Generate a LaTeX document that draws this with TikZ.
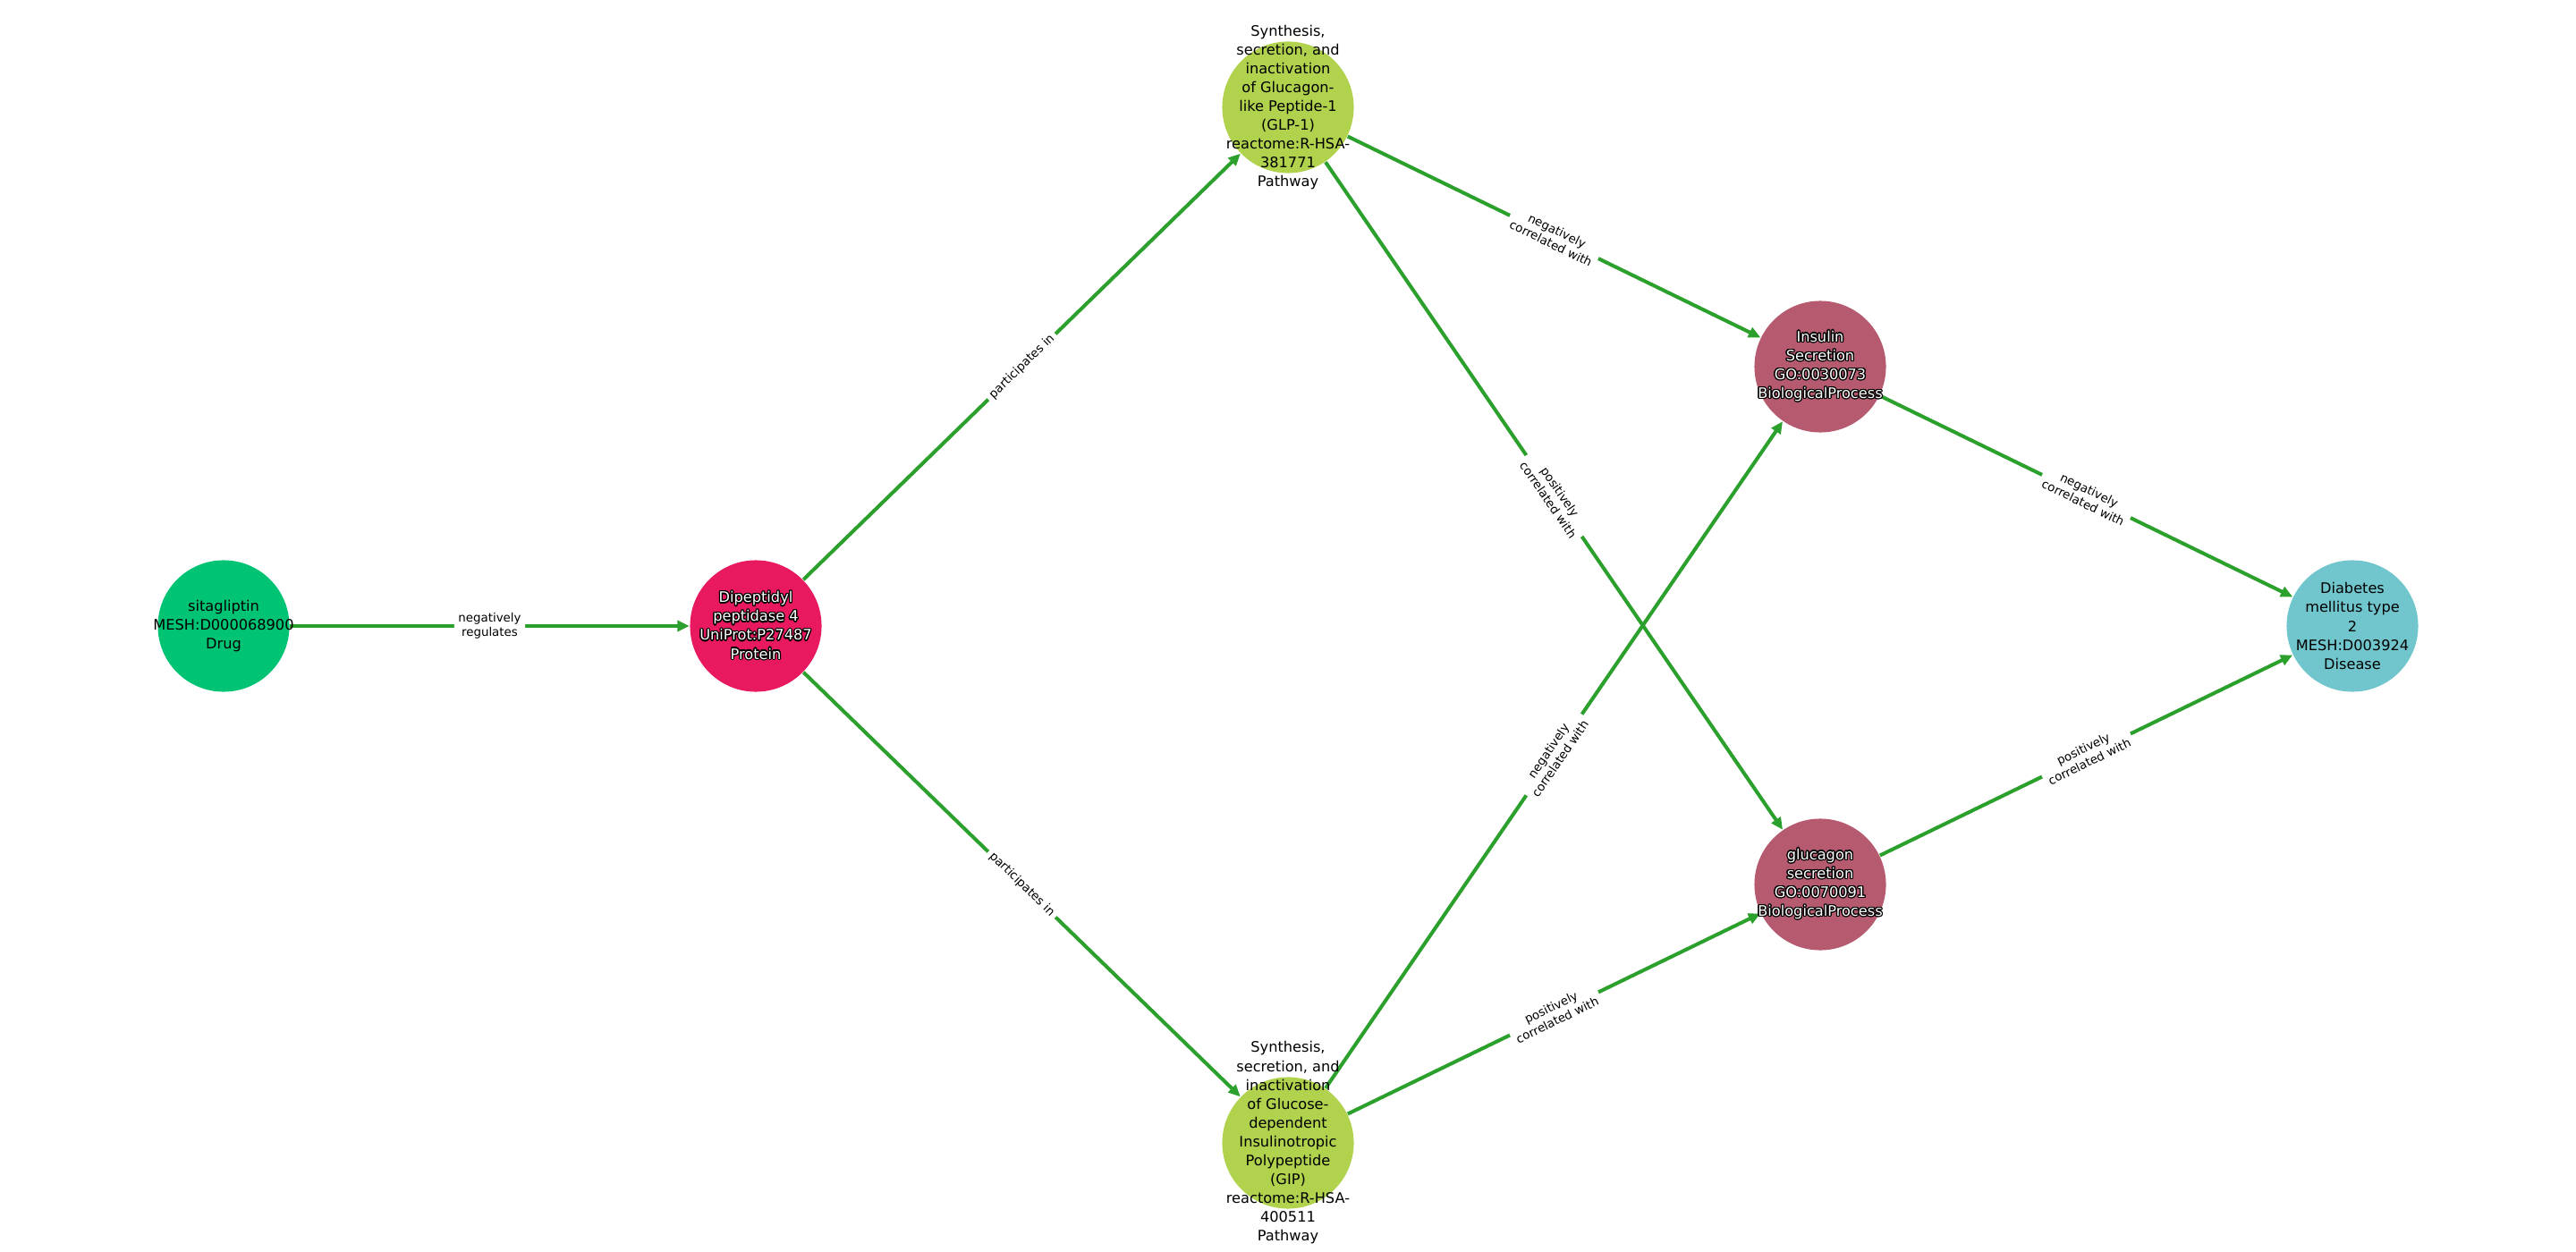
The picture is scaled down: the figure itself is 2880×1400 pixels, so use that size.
\documentclass[tikz,border=0pt]{standalone}
\usepackage{fontspec}
\setmainfont{DejaVu Sans}
\usepackage{contour}
\contourlength{0.35pt}
\contournumber{16}
\usetikzlibrary{arrows.meta}
\definecolor{cdrug}{RGB}{0,196,116}
\definecolor{cprot}{RGB}{232,25,95}
\definecolor{cpath}{RGB}{176,210,77}
\definecolor{cbio}{RGB}{181,90,111}
\definecolor{cdis}{RGB}{112,198,204}
\definecolor{cedge}{RGB}{44,160,44}
\newcommand{\ct}[1]{\contour{black}{#1}}
\tikzset{
  ent/.style={circle, minimum size=1.47cm, inner sep=0pt, draw=none},
  ntext/.style={align=center, inner sep=0pt, font=\fontsize{4.6}{6}\selectfont, text=black},
  wtext/.style={ntext, text=white},
  rel/.style={draw=cedge, line width=1.15pt, -{Triangle[length=3.8pt,width=3.4pt]}},
  elab/.style={midway, sloped, fill=white, align=center, inner sep=1.3pt, rounded corners=1pt,
    font=\fontsize{3.8}{4.5}\selectfont, text=black}
}
\begin{document}
\begin{tikzpicture}[x=0.01cm, y=-0.01cm]
\useasboundingbox (0,0) rectangle (2880,1400);
% circles
\node[ent, fill=cdrug] (sita) at (250,700) {};
\node[ent, fill=cprot] (dpp4) at (845,700) {};
\node[ent, fill=cpath] (glp1) at (1440,120) {};
\node[ent, fill=cpath] (gip) at (1440,1278) {};
\node[ent, fill=cbio] (ins) at (2035,410) {};
\node[ent, fill=cbio] (glu) at (2035,989) {};
\node[ent, fill=cdis] (dm) at (2630,700) {};
% edges
\draw[rel] (sita) -- node[elab]{negatively\\regulates} (dpp4);
\draw[rel] (dpp4) -- node[elab]{participates in} (glp1);
\draw[rel] (dpp4) -- node[elab]{participates in} (gip);
\draw[rel] (glp1) -- node[elab]{negatively\\correlated with} (ins);
\draw[rel] (glp1) -- node[elab]{positively\\correlated with} (glu);
\draw[rel] (gip) -- node[elab]{negatively\\correlated with} (ins);
\draw[rel] (gip) -- node[elab]{positively\\correlated with} (glu);
\draw[rel] (ins) -- node[elab]{negatively\\correlated with} (dm);
\draw[rel] (glu) -- node[elab]{positively\\correlated with} (dm);
% texts
\node[ntext] (sita-t) at (sita.center) {sitagliptin\\MESH:D000068900\\Drug};
\node[wtext] (dpp4-t) at (dpp4.center) {\ct{Dipeptidyl}\\\ct{peptidase 4}\\\ct{UniProt:P27487}\\\ct{Protein}};
\node[ntext] (glp1-t) at (glp1.center) {Synthesis,\\secretion, and\\inactivation\\of Glucagon-\\like Peptide-1\\(GLP-1)\\reactome:R-HSA-\\381771\\Pathway};
\node[ntext] (gip-t) at (gip.center) {Synthesis,\\secretion, and\\inactivation\\of Glucose-\\dependent\\Insulinotropic\\Polypeptide\\(GIP)\\reactome:R-HSA-\\400511\\Pathway};
\node[wtext] (ins-t) at (ins.center) {\ct{Insulin}\\\ct{Secretion}\\\ct{GO:0030073}\\\ct{BiologicalProcess}};
\node[wtext] (glu-t) at (glu.center) {\ct{glucagon}\\\ct{secretion}\\\ct{GO:0070091}\\\ct{BiologicalProcess}};
\node[ntext] (dm-t) at (dm.center) {Diabetes\\mellitus type\\2\\MESH:D003924\\Disease};
\end{tikzpicture}
\end{document}
